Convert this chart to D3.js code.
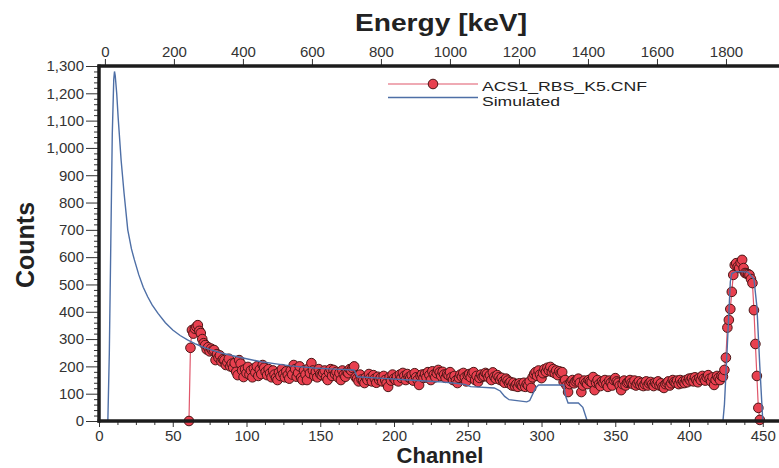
<!DOCTYPE html>
<html>
<head lang="en">
    <meta charset="UTF-8">
    <title>Spectrum</title>
    <script src="https://cdnjs.cloudflare.com/ajax/libs/d3/7.8.5/d3.min.js" charset="utf-8"></script>
    <style>
        body { margin: 0; background: #fff; }
        text { font-family: Arial, "Liberation Sans", sans-serif; fill: #222; }
    </style>
</head>

<body>
<div id="chart"></div>
<script>

var yTicks = [0, 100, 200, 300, 400, 500, 600, 700, 800, 900, 1000, 1100, 1200, 1300];
var channelTicks = [0, 50, 100, 150, 200, 250, 300, 350, 400, 450];
var energyTicks = [0, 200, 400, 600, 800, 1000, 1200, 1400, 1600, 1800];
var seriesNames = ['ACS1_RBS_K5.CNF', 'Simulated'];

// measured spectrum, one value per channel starting at dataStart
var dataStart = 61;
var dataCounts = [
    0, 268, 333, 320, 338, 345, 351, 330, 322, 300,
    285, 278, 262, 270, 255, 265, 258, 260, 223, 245,
    232, 240, 218, 226, 223, 205, 215, 228, 200, 210,
    195, 212, 180, 168, 223, 210, 185, 161, 190, 175,
    198, 170, 185, 160, 192, 178, 200, 165, 188, 172,
    205, 195, 180, 168, 190, 175, 160, 185, 170, 158,
    150, 178, 165, 190, 172, 160, 182, 168, 155, 185,
    170, 205, 190, 162, 176, 200, 158, 150, 185, 170,
    150, 192, 175, 212, 185, 165, 180, 160, 190, 172,
    168, 176, 185, 160, 150, 178, 190, 165, 187, 172,
    180, 160, 175, 150, 185, 170, 162, 180, 175, 190,
    185, 194, 200, 160, 155, 145, 170, 152, 148, 139,
    160, 150, 172, 158, 145, 168, 155, 140, 162, 150,
    158, 145, 165, 150, 138, 125, 160, 148, 170, 155,
    150, 162, 145, 170, 158, 176, 165, 150, 172, 160,
    157, 168, 148, 175, 160, 150, 132, 165, 170, 158,
    172, 160, 179, 168, 150, 182, 170, 160, 175, 187,
    178, 165, 180, 170, 158, 172, 168, 179, 160, 150,
    165, 148, 139, 158, 170, 162, 176, 160, 145, 168,
    172, 160, 175, 179, 150, 165, 143, 158, 170, 162,
    165, 176, 172, 160, 168, 150, 178, 162, 155, 168,
    160, 150, 158, 145, 140, 155, 148, 138, 143, 130,
    140, 128, 135, 125, 138, 132, 128, 140, 125, 135,
    130, 145, 121, 160, 172, 179, 165, 185, 170, 157,
    175, 190, 180, 195, 185, 198, 180, 190, 175, 185,
    168, 182, 175, 179, 143, 150, 130, 106, 135, 145,
    150, 138, 145, 150, 155, 140, 106, 130, 148, 140,
    135, 150, 145, 142, 161, 113, 140, 150, 135, 128,
    145, 139, 150, 135, 125, 148, 140, 130, 150, 157,
    145, 140, 130, 113, 135, 148, 130, 140, 143, 150,
    140, 135, 148, 130, 138, 145, 132, 140, 128, 135,
    145, 130, 138, 143, 135, 128, 140, 135, 145, 130,
    138, 125, 121, 135, 140, 145, 130, 138, 150, 143,
    140, 148, 135, 150, 138, 145, 139, 150, 142, 155,
    148, 157, 145, 160, 150, 142, 158, 150, 165, 155,
    148, 160, 168, 155, 145, 160, 132, 150, 165, 158,
    150, 165, 162, 187, 232, 342, 370, 410, 473, 535,
    571, 578, 565, 560, 580, 590, 560, 542, 540, 538,
    535, 520, 505, 406, 282, 165, 48, 4
];

// simulated spectrum vertices
var simChannel = [0, 6, 7, 8, 9, 10, 10.5, 11, 12, 13,
    15, 17, 19.5, 22, 24, 27, 30, 33, 36, 40,
    45, 50, 55, 60, 65, 70, 75, 83, 90, 100,
    110, 120, 130, 146, 160, 173, 175, 190, 210, 230,
    240, 248, 252, 268, 272, 275, 278, 290, 292, 296,
    298, 315, 316.5, 318, 325, 328, 331, 423, 424, 426,
    428, 429, 432, 440, 444, 446, 448, 450, 461];
var simCounts = [0, 0, 250, 650, 1050, 1250, 1280, 1265, 1200, 1110,
    955, 834, 700, 630, 590, 535, 490, 455, 425, 394,
    360, 333, 313, 297, 283, 272, 262, 249, 240, 228,
    217, 209, 202, 194, 190, 187, 162, 157, 150, 144,
    139, 134, 126, 121, 110, 90, 78, 70, 75, 121,
    132, 132, 89, 66, 66, 50, 0, 0, 60, 280,
    510, 540, 548, 545, 520, 420, 200, 0, 0];

// channel -> energy calibration
var keVPerCh = 4.275, chOffset = 4;

var svgWidth = 779, svgHeight = 468;
var svg = d3.select('#chart').append('svg')
    .attr('width', svgWidth)
    .attr('height', svgHeight);

var x = d3.scaleLinear().domain([0, 461]).range([99, 779]);
var e = d3.scaleLinear()
    .domain([(0 - chOffset) * keVPerCh, (461 - chOffset) * keVPerCh])
    .range([99, 779]);
var y = d3.scaleLinear().domain([0, 1300]).range([421, 66]);

function styleAxis(g) {
    g.select('.domain').remove();
    g.selectAll('line').attr('stroke', '#333').attr('stroke-width', 1);
    g.selectAll('text').style('font-size', '15px').style('fill', '#333');
}

// minor ticks
svg.append('g').attr('transform', 'translate(99,0)')
    .call(d3.axisLeft(y).tickValues(d3.range(0, 1301, 20).filter(function (d) { return d % 100; }))
        .tickSize(5).tickFormat(''))
    .call(styleAxis);
svg.append('g').attr('transform', 'translate(0,421)')
    .call(d3.axisBottom(x).tickValues(d3.range(0, 461, 12.5).filter(function (d) { return d % 50; }))
        .tickSize(4).tickFormat(''))
    .call(styleAxis);

// major ticks
svg.append('g').attr('transform', 'translate(99,0)')
    .call(d3.axisLeft(y).tickValues(yTicks).tickSize(13).tickPadding(2).tickFormat(d3.format(',')))
    .call(styleAxis);
svg.append('g').attr('transform', 'translate(0,421)')
    .call(d3.axisBottom(x).tickValues(channelTicks).tickSize(6).tickPadding(3))
    .call(styleAxis);
svg.append('g').attr('transform', 'translate(0,66)')
    .call(d3.axisTop(e).tickValues(energyTicks).tickSize(7).tickPadding(2).tickFormat(d3.format('d')))
    .call(styleAxis);

// data
var measured = dataCounts.map(function (c, i) { return [dataStart + i, c]; });
var simulated = simChannel.map(function (c, i) { return [c, simCounts[i]]; });

var line = d3.line()
    .x(function (d) { return x(d[0]); })
    .y(function (d) { return y(d[1]); });

svg.append('path').datum(measured)
    .attr('d', line)
    .attr('fill', 'none')
    .attr('stroke', '#e0566a')
    .attr('stroke-width', 1.2);

svg.selectAll('circle.pt').data(measured).enter().append('circle')
    .attr('class', 'pt')
    .attr('cx', function (d) { return x(d[0]); })
    .attr('cy', function (d) { return y(d[1]); })
    .attr('r', 4.8)
    .attr('fill', '#e8404f')
    .attr('stroke', '#4a1616')
    .attr('stroke-width', 1);

svg.append('path').datum(simulated)
    .attr('d', line)
    .attr('fill', 'none')
    .attr('stroke', '#4e6fa6')
    .attr('stroke-width', 1.4);

// frame
var frame = svg.append('g').attr('stroke', '#1c1c1c').attr('stroke-width', 3.5);
frame.append('line').attr('x1', 99).attr('x2', 99).attr('y1', 64.5).attr('y2', 422.5);
frame.append('line').attr('x1', 97.5).attr('x2', 779).attr('y1', 66).attr('y2', 66);
frame.append('line').attr('x1', 97.5).attr('x2', 779).attr('y1', 421).attr('y2', 421);

// legend
var legendWidths = [165, 78];
var legend = svg.append('g');
legend.append('line').attr('x1', 388).attr('x2', 478).attr('y1', 84).attr('y2', 84)
    .attr('stroke', '#e0566a').attr('stroke-width', 1.2);
legend.append('circle').attr('cx', 433).attr('cy', 84).attr('r', 4.8)
    .attr('fill', '#e8404f').attr('stroke', '#4a1616').attr('stroke-width', 1);
legend.append('line').attr('x1', 388).attr('x2', 478).attr('y1', 97.5).attr('y2', 97.5)
    .attr('stroke', '#4e6fa6').attr('stroke-width', 1.4);
legend.selectAll('text.leg').data(seriesNames).enter().append('text')
    .attr('class', 'leg')
    .attr('x', 482)
    .attr('y', function (d, i) { return 91 + i * 15; })
    .attr('textLength', function (d, i) { return legendWidths[i]; })
    .attr('lengthAdjust', 'spacingAndGlyphs')
    .style('font-size', '13px')
    .text(function (d) { return d; });

// titles
svg.append('text').attr('x', 355).attr('y', 31)
    .attr('textLength', 172).attr('lengthAdjust', 'spacingAndGlyphs')
    .style('font-size', '23px').style('font-weight', 'bold')
    .text('Energy [keV]');
svg.append('text').attr('x', 440).attr('y', 463).attr('text-anchor', 'middle')
    .style('font-size', '22px').style('font-weight', 'bold')
    .text('Channel');
svg.append('text').attr('transform', 'translate(34,245) rotate(-90)').attr('text-anchor', 'middle')
    .style('font-size', '25px').style('font-weight', 'bold')
    .text('Counts');

</script>
</body>
</html>
